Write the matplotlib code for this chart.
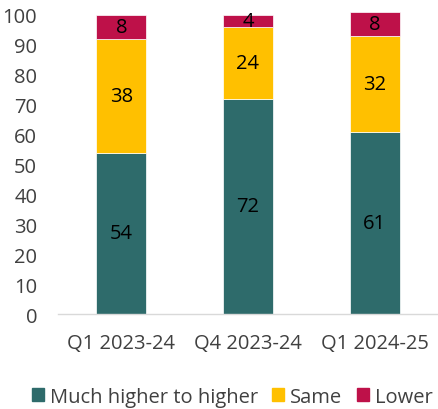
import matplotlib
matplotlib.use("Agg")
import matplotlib.pyplot as plt
from matplotlib.patches import Patch

plt.rcParams['font.family'] = ['Open Sans', 'DejaVu Sans']

quarters = ["Q1 2023-24", "Q4 2023-24", "Q1 2024-25"]
higher = [54, 72, 61]
same = [38, 24, 32]
lower = [8, 4, 8]
series_names = ["Much higher to higher", "Same", "Lower"]

colors = ["#2E6B6B", "#FFC000", "#BE1149"]
text_col = "#404040"

fig = plt.figure(figsize=(4.38, 4.10), dpi=100)
ax = fig.add_axes([0.1324, 0.2317, 0.8676, 0.7293])

x = list(range(len(quarters)))
width = 0.395
bottom = [0] * len(quarters)
for vals, col in zip([higher, same, lower], colors):
    ax.bar(x, vals, width, bottom=bottom, color=col, clip_on=False,
           edgecolor="white", linewidth=0.5)
    for xi, b, v in zip(x, bottom, vals):
        ax.text(xi, b + v / 2, str(v), ha="center", va="center",
                fontsize=14.5, color="black")
    bottom = [b + v for b, v in zip(bottom, vals)]

ax.set_xlim(-0.5, 2.5)
ax.set_ylim(0, 100)
ax.set_yticks(range(0, 101, 10))
ax.set_xticks(x)
ax.set_xticklabels(quarters)
ax.tick_params(axis="both", length=0, labelsize=14.5, colors=text_col)
ax.tick_params(axis="y", pad=15)
ax.tick_params(axis="x", pad=14)
for s in ["top", "right", "left"]:
    ax.spines[s].set_visible(False)
ax.spines["bottom"].set_color("#D9D9D9")
ax.spines["bottom"].set_linewidth(1)

handles = [Patch(color=c) for c in colors]
fig.legend(handles, series_names, loc="center", bbox_to_anchor=(0.53, 0.03),
           ncol=3, frameon=False, fontsize=14.5, handlelength=0.6,
           handleheight=0.6, handletextpad=0.3, columnspacing=0.7,
           labelcolor=text_col)

fig.savefig("out.png", dpi=100)
